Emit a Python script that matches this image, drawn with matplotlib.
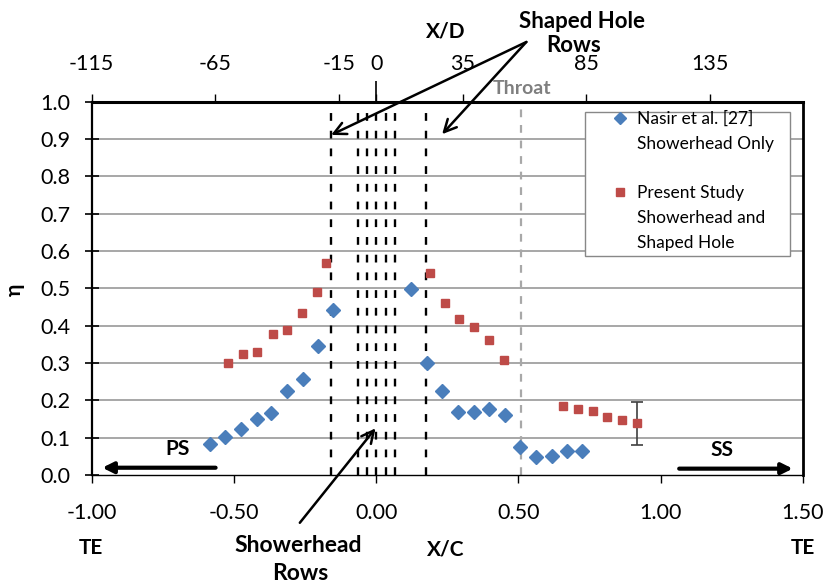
import matplotlib
matplotlib.use("Agg")
import matplotlib.pyplot as plt
from matplotlib.lines import Line2D
from matplotlib.patches import Rectangle
from matplotlib.ticker import FormatStrFormatter

plt.rcParams['font.family'] = ['Lato', 'DejaVu Sans']
plt.rcParams['axes.unicode_minus'] = False

# ---------------- data ----------------
xc_nasir = [-0.585, -0.532, -0.476, -0.420, -0.368, -0.312, -0.258, -0.204, -0.150,
            0.124, 0.179, 0.233, 0.289, 0.344, 0.397, 0.452, 0.507, 0.562, 0.617, 0.672, 0.725]
eta_nasir = [0.083, 0.101, 0.124, 0.149, 0.167, 0.224, 0.257, 0.346, 0.441,
             0.497, 0.301, 0.226, 0.169, 0.168, 0.176, 0.160, 0.075, 0.049, 0.051, 0.064, 0.063]

xc_present = [-0.519, -0.468, -0.417, -0.364, -0.313, -0.259, -0.209, -0.175,
              0.188, 0.241, 0.292, 0.345, 0.397, 0.448, 0.657, 0.709, 0.761, 0.811, 0.864, 0.916]
eta_present = [0.300, 0.325, 0.329, 0.378, 0.388, 0.434, 0.490, 0.568,
               0.542, 0.461, 0.417, 0.397, 0.361, 0.307, 0.185, 0.176, 0.172, 0.156, 0.148, 0.138]

err_x = [0.916]
err_y = [0.138]
err_val = [0.058]

shaped_rows_xc = [-0.158, 0.174]
showerhead_rows_xc = [-0.065, -0.033, 0.001, 0.035, 0.068]
throat_xc = 0.510

xc_ticks = [-1.0, -0.5, 0.0, 0.5, 1.0, 1.5]
eta_ticks = [0.0, 0.1, 0.2, 0.3, 0.4, 0.5, 0.6, 0.7, 0.8, 0.9, 1.0]
xd_ticks = [-115, -65, -15, 0, 35, 85, 135]
xd_per_xc = 115.0

label_nasir = ["Nasir et al. [27]", "Showerhead Only"]
label_present = ["Present Study", "Showerhead and", "Shaped Hole"]

# ---------------- figure ----------------
W, H = 827, 586
fig = plt.figure(figsize=(W / 100, H / 100), dpi=100)
AX_L, AX_R, AX_B, AX_T = 91.5, 803.0, 475.0, 101.7
ax = fig.add_axes([AX_L / W, 1 - AX_B / H, (AX_R - AX_L) / W, (AX_B - AX_T) / H])


def ax_frac(px, py):
    return (px - AX_L) / (AX_R - AX_L), (AX_B - py) / (AX_B - AX_T)


ax.set_xlim(-1.0, 1.5)
ax.set_ylim(0.0, 1.0)

# grid
for y in eta_ticks[1:-1]:
    ax.axhline(y, color='#a0a0a0', lw=1.3, zorder=0)

# vertical row lines
for xv in shaped_rows_xc + showerhead_rows_xc:
    ax.axvline(xv, color='black', lw=1.7, dashes=(3.3, 4.2), zorder=1)
ax.axvline(throat_xc, color='#a8a8a8', lw=1.6, dashes=(3.5, 3.5), zorder=1)

# data
ax.plot(xc_nasir, eta_nasir, ls='none', marker='D', ms=6.8, color='#4a7ebb',
        mec='#4a7ebb', zorder=3)
ax.plot(xc_present, eta_present, ls='none', marker='s', ms=5.6, color='#be4b48',
        mec='#be4b48', zorder=3)
ax.errorbar(err_x, err_y, yerr=err_val, fmt='none', ecolor='#404040', elinewidth=1.2,
            capsize=4, capthick=1.2, zorder=2)

# spines
for s in ['left', 'top', 'right']:
    ax.spines[s].set_color('black')
ax.spines['left'].set_linewidth(1.6)
ax.spines['top'].set_linewidth(2.2)
ax.spines['right'].set_linewidth(2.0)
ax.spines['bottom'].set_linewidth(1.0)

ax.set_xticks(xc_ticks)
ax.set_yticks(eta_ticks)
ax.xaxis.set_major_formatter(FormatStrFormatter('%.2f'))
ax.yaxis.set_major_formatter(FormatStrFormatter('%.1f'))
ax.tick_params(axis='x', direction='out', length=6, width=1, pad=14, labelsize=15.5)
ax.tick_params(axis='y', direction='inout', length=10, width=1.2, pad=10, labelsize=15.5)

# top X/D axis
sec = ax.secondary_xaxis('top', functions=(lambda x: x * xd_per_xc, lambda d: d / xd_per_xc))
sec.set_xticks(xd_ticks)
sec.xaxis.remove_overlapping_locs = False
sec.set_xticks([0], minor=True)
sec.tick_params(which='major', direction='out', length=6, width=1, pad=14, labelsize=15.5)
sec.tick_params(which='minor', direction='out', length=15, width=1.2)
sec.spines['top'].set_visible(False)

# axis labels / texts
fig.text(15 / W, 1 - 290 / H, 'η', rotation=90, fontsize=15, fontweight='bold',
         ha='center', va='center')
fig.text(446 / W, 1 - 549 / H, 'X/C', fontsize=15, fontweight='bold', ha='center', va='center')
fig.text(91 / W, 1 - 548 / H, 'TE', fontsize=15, fontweight='bold', ha='center', va='center')
fig.text(803 / W, 1 - 548 / H, 'TE', fontsize=15, fontweight='bold', ha='center', va='center')
fig.text(446 / W, 1 - 32 / H, 'X/D', fontsize=15, fontweight='bold', ha='center', va='center')
fig.text(582 / W, 1 - 21 / H, 'Shaped Hole', fontsize=16, fontweight='bold', ha='center', va='center')
fig.text(574 / W, 1 - 45 / H, 'Rows', fontsize=16, fontweight='bold', ha='center', va='center')
fig.text(521.7 / W, 1 - 88 / H, 'Throat', fontsize=14, fontweight='bold', color='#7f7f7f',
         ha='center', va='center')
fig.text(298 / W, 1 - 545 / H, 'Showerhead', fontsize=16.5, fontweight='bold', ha='center', va='center')
fig.text(300 / W, 1 - 574 / H, 'Rows', fontsize=16.5, fontweight='bold', ha='center', va='center')

ax.text(-0.699, 0.069, 'PS', fontsize=15, fontweight='bold', ha='center', va='center')
ax.text(1.215, 0.067, 'SS', fontsize=15, fontweight='bold', ha='center', va='center')

# arrows
arrow_thick = dict(arrowstyle='-|>', lw=3, color='black', mutation_scale=16, shrinkA=0, shrinkB=0)
ax.annotate('', xy=(-0.962, 0.0195), xytext=(-0.564, 0.0195), arrowprops=arrow_thick,
            annotation_clip=False)
ax.annotate('', xy=(1.464, 0.017), xytext=(1.065, 0.017), arrowprops=arrow_thick,
            annotation_clip=False)

arrow_thin = dict(arrowstyle='->', lw=1.8, color='black', mutation_scale=22, shrinkA=0, shrinkB=0)
ax.annotate('', xy=(-0.158, 0.911), xytext=(0.528, 1.160), arrowprops=arrow_thin,
            annotation_clip=False)
ax.annotate('', xy=(0.232, 0.913), xytext=(0.528, 1.160), arrowprops=arrow_thin,
            annotation_clip=False)
ax.annotate('', xy=(-0.002, 0.125), xytext=(-0.268, -0.128), arrowprops=arrow_thin,
            annotation_clip=False)

# legend box
bx0, by1 = ax_frac(585, 111.7)
bx1, by0 = ax_frac(790, 256)
ax.add_patch(Rectangle((bx0, by0), bx1 - bx0, by1 - by0, transform=ax.transAxes,
                       facecolor='white', edgecolor='#888888', lw=1.0, zorder=4))

blank = Line2D([], [], ls='none', marker='')
h_n = Line2D([], [], ls='none', marker='D', ms=6, color='#4a7ebb')
h_p = Line2D([], [], ls='none', marker='s', ms=5.2, color='#be4b48')
handles = [h_n, blank, blank, h_p, blank, blank]
labels = [label_nasir[0], label_nasir[1], ' ', label_present[0], label_present[1], label_present[2]]
fs = 12.5
fs_px = fs / 72 * 100
lx, ly = ax_frac(620 - fs_px * 0.5, 111.0)
leg = ax.legend(handles, labels, loc='upper left', bbox_to_anchor=(lx, ly),
                fontsize=fs, frameon=False, handlelength=1.0,
                handletextpad=(637 - 620 - fs_px * 0.5) / fs_px, borderpad=0,
                labelspacing=0.5, borderaxespad=0)
leg.set_zorder(5)

fig.savefig('out.png', dpi=100)
